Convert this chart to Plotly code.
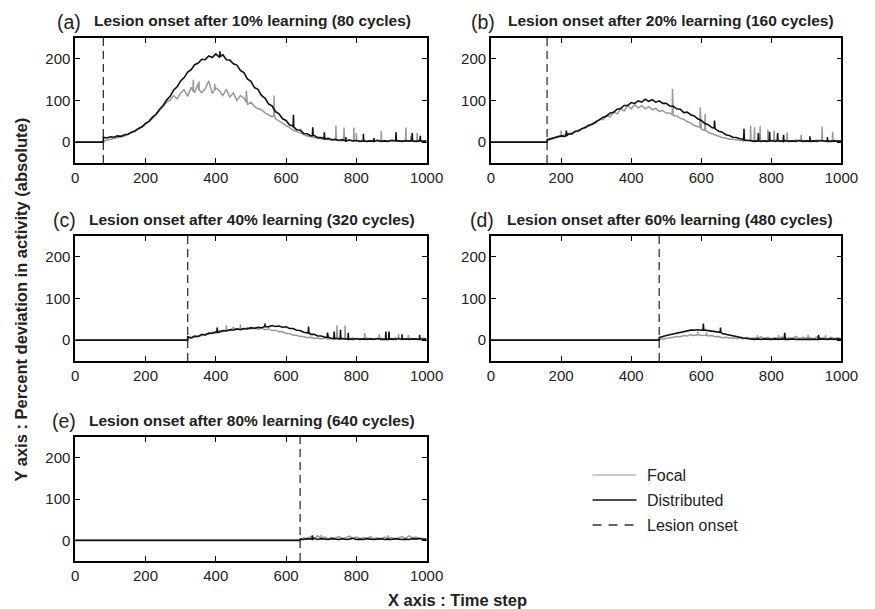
import plotly.graph_objects as go

W, H = 875, 609

# ---------------- data ----------------
ONSETS = [80, 160, 320, 480, 640]
PANEL_LETTERS = ["(a)", "(b)", "(c)", "(d)", "(e)"]
PANEL_TITLES = [
    "Lesion onset after 10% learning (80 cycles)",
    "Lesion onset after 20% learning (160 cycles)",
    "Lesion onset after 40% learning (320 cycles)",
    "Lesion onset after 60% learning (480 cycles)",
    "Lesion onset after 80% learning (640 cycles)",
]
SAMPLE_STEP = 10  # values below are sampled every 10 time steps from onset to 1000

FOCAL_A = [3, 5, 7, 9, 10, 13, 15, 18, 22, 26,
           31, 36, 43, 49, 57, 66, 76, 85, 96, 101,
           112, 104, 118, 126, 110, 132, 120, 141, 119, 128,
           147, 117, 130, 124, 112, 127, 108, 118, 100, 112,
           106, 90, 96, 86, 80, 78, 70, 66, 61, 56,
           50, 44, 40, 35, 29, 26, 21, 18, 15, 13,
           11, 10, 8, 7, 6, 6, 5, 4, 5, 3,
           5, 3, 4, 3, 5, 2, 4, 3, 5, 3,
           4, 2, 5, 3, 4, 3, 5, 2, 4, 3,
           5, 3, 4]
DIST_A = [12, 10, 13, 12, 15, 14, 18, 19, 24, 27,
          33, 37, 45, 50, 60, 67, 79, 88, 101, 110,
          125, 133, 147, 155, 168, 174, 186, 190, 199, 198,
          207, 203, 212, 204, 210, 198, 197, 188, 185, 172,
          167, 152, 146, 131, 127, 112, 106, 92, 87, 73,
          68, 56, 52, 41, 39, 30, 29, 21, 20, 15,
          16, 11, 11, 8, 9, 6, 7, 4, 6, 3,
          5, 3, 4, 2, 4, 2, 3, 2, 4, 2,
          3, 2, 4, 2, 3, 2, 3, 2, 4, 2,
          3, 2, 3]

FOCAL_B = [3, 6, 9, 14, 13, 18, 17, 23, 24, 30,
           31, 38, 38, 46, 46, 55, 54, 64, 61, 72,
           68, 80, 75, 88, 80, 90, 82, 88, 80, 85,
           78, 81, 74, 76, 70, 70, 64, 63, 57, 55,
           49, 46, 40, 37, 31, 28, 23, 20, 16, 14,
           11, 10, 7, 7, 5, 5, 3, 5, 3, 4,
           3, 5, 2, 4, 3, 5, 3, 4, 2, 4,
           3, 5, 3, 4, 2, 4, 3, 5, 3, 4,
           3, 4, 2, 4, 3]
DIST_B = [6, 8, 10, 12, 15, 14, 20, 19, 26, 27,
          33, 35, 41, 43, 50, 54, 60, 63, 70, 72,
          79, 81, 88, 88, 95, 93, 99, 96, 103, 98,
          102, 96, 99, 93, 93, 87, 86, 80, 79, 71,
          72, 66, 63, 56, 52, 45, 42, 35, 32, 26,
          24, 18, 16, 12, 11, 8, 7, 4, 4, 2,
          4, 2, 3, 2, 4, 2, 3, 2, 4, 2,
          3, 2, 4, 2, 3, 2, 3, 2, 4, 2,
          3, 2, 3, 2, 3]

FOCAL_C = [3, 5, 7, 10, 11, 15, 14, 19, 17, 23,
           20, 27, 23, 30, 25, 32, 26, 30, 27, 31,
           26, 29, 25, 27, 23, 24, 20, 20, 16, 16,
           12, 12, 9, 9, 6, 7, 4, 5, 3, 5,
           3, 4, 2, 5, 3, 4, 3, 5, 2, 4,
           3, 5, 3, 4, 2, 5, 3, 4, 3, 5,
           3, 4, 2, 5, 3, 4, 3, 5, 3]
DIST_C = [8, 6, 10, 9, 14, 12, 17, 16, 20, 19,
          23, 22, 25, 24, 27, 25, 28, 27, 30, 28,
          31, 30, 33, 32, 35, 33, 34, 31, 32, 28,
          28, 24, 23, 19, 18, 14, 14, 10, 10, 7,
          7, 4, 5, 3, 4, 2, 3, 2, 4, 2,
          3, 2, 3, 2, 4, 2, 3, 2, 3, 2,
          4, 2, 3, 2, 3, 2, 4, 2, 3]

FOCAL_D = [1, 3, 4, 6, 7, 9, 8, 11, 10, 13,
           11, 14, 11, 13, 10, 11, 8, 9, 6, 7,
           5, 6, 4, 6, 3, 7, 4, 6, 3, 8,
           4, 7, 3, 6, 4, 8, 3, 6, 4, 9,
           3, 7, 4, 6, 3, 8, 4, 6, 3, 7,
           4, 6, 3]
DIST_D = [6, 9, 11, 13, 15, 17, 19, 21, 22, 24,
          24, 25, 24, 24, 23, 22, 20, 19, 16, 14,
          12, 10, 8, 7, 5, 4, 3, 2, 3, 2,
          3, 2, 2, 3, 2, 3, 2, 2, 3, 2,
          2, 3, 2, 2, 3, 2, 3, 2, 2, 3,
          2, 3, 2]

FOCAL_E = [2, 6, 4, 9, 5, 11, 6, 8, 4, 7,
           5, 9, 4, 6, 10, 5, 8, 4, 7, 5,
           9, 4, 6, 3, 8, 5, 7, 3, 6, 9,
           4, 11, 6, 8, 3, 5, 2]
DIST_E = [3, 2, 4, 3, 5, 2, 4, 3, 2, 4,
          3, 2, 4, 2, 3, 5, 2, 3, 2, 4,
          3, 2, 3, 4, 2, 3, 2, 4, 3, 2,
          3, 2, 4, 3, 5, 2, 3]

# isolated spikes: (time step, level beside the spike, spike top)
SPIKES_FOCAL_A = [(336, 122, 150), (352, 125, 146), (397, 125, 140), (487, 96, 124),
                  (566, 64, 112), (742, 5, 40), (765, 4, 35), (793, 4, 35),
                  (800, 4, 22), (871, 3, 27), (941, 3, 35), (955, 3, 15), (973, 3, 22)]
SPIKES_DIST_A = [(412, 205, 218), (621, 36, 66), (676, 16, 36), (709, 8, 24), (770, 3, 12),
                 (820, 3, 20), (850, 2, 10), (913, 3, 24), (959, 3, 22), (982, 3, 15)]
SPIKES_FOCAL_B = [(200, 14, 28), (518, 66, 128), (597, 36, 84), (611, 29, 68), (741, 4, 40),
                  (752, 3, 36), (768, 4, 38), (790, 3, 30), (808, 3, 28), (845, 3, 24),
                  (885, 3, 18), (945, 3, 38), (975, 3, 25)]
SPIKES_DIST_B = [(215, 15, 28), (638, 34, 52), (722, 5, 32), (763, 3, 22), (795, 3, 25),
                 (818, 3, 22), (835, 2, 18), (910, 2, 14), (960, 2, 12)]
SPIKES_FOCAL_C = [(430, 25, 36), (470, 28, 38), (745, 4, 36), (768, 3, 35), (824, 3, 17),
                  (865, 3, 14), (920, 3, 15), (948, 3, 12)]
SPIKES_DIST_C = [(404, 19, 30), (540, 33, 40), (664, 17, 33), (718, 7, 18), (737, 4, 21),
                 (755, 3, 25), (777, 2, 18), (884, 2, 21), (893, 2, 21), (930, 2, 14),
                 (980, 2, 13)]
SPIKES_FOCAL_D = [(590, 13, 20), (615, 12, 18), (760, 4, 12), (820, 4, 12), (905, 4, 13),
                  (955, 4, 12)]
SPIKES_DIST_D = [(606, 24, 40), (655, 19, 30), (838, 2, 18), (935, 2, 13)]
SPIKES_FOCAL_E = [(700, 5, 13), (890, 5, 12)]
SPIKES_DIST_E = [(675, 3, 12)]

FOCAL = [FOCAL_A, FOCAL_B, FOCAL_C, FOCAL_D, FOCAL_E]
DIST = [DIST_A, DIST_B, DIST_C, DIST_D, DIST_E]
SPK_FOCAL = [SPIKES_FOCAL_A, SPIKES_FOCAL_B, SPIKES_FOCAL_C, SPIKES_FOCAL_D, SPIKES_FOCAL_E]
SPK_DIST = [SPIKES_DIST_A, SPIKES_DIST_B, SPIKES_DIST_C, SPIKES_DIST_D, SPIKES_DIST_E]

X_TICKS = [0, 200, 400, 600, 800, 1000]
Y_TICKS = [0, 100, 200]
X_RANGE = [0, 1000]
Y_RANGE = [-50, 250]
LEGEND_LABELS = ["Focal", "Distributed", "Lesion onset"]

# ---------------- styling / layout ----------------
GRAY = "#999999"
BLACK = "#111111"
DASH_COLOR = "#333333"
FONT = "Liberation Sans, Arial, Helvetica, sans-serif"

# axes boxes in pixels: (left, right, top, bottom)
COLS = [(73, 433), (499, 858)]
ROWS = [(38, 163), (236, 361), (437, 561)]
BOXES = [(COLS[0], ROWS[0]), (COLS[1], ROWS[0]), (COLS[0], ROWS[1]), (COLS[1], ROWS[1]),
         (COLS[0], ROWS[2])]
TITLE_LEFT = [90, 514, 85, 513, 85]


def px(x):
    return x / W


def py(y):
    return 1 - y / H


def build(onset, vals, spikes):
    pts = [(0, 0), (onset, 0)]
    pts += [(onset + SAMPLE_STEP * i, v) for i, v in enumerate(vals)]
    for t, base, top in spikes:
        pts += [(t - 1, base), (t, top), (t + 1, base)]
    pts.sort(key=lambda p: p[0])
    return [p[0] for p in pts], [p[1] for p in pts]


fig = go.Figure()
annotations = []
for k in range(5):
    (l, r), (t, b) = BOXES[k]
    suf = "" if k == 0 else str(k + 1)
    xa, ya = "x" + suf, "y" + suf
    fx, fy = build(ONSETS[k], FOCAL[k], SPK_FOCAL[k])
    dx, dy = build(ONSETS[k], DIST[k], SPK_DIST[k])
    fig.add_trace(go.Scatter(x=fx, y=fy, mode="lines", line=dict(color=GRAY, width=1.5),
                             xaxis=xa, yaxis=ya, showlegend=False, name=LEGEND_LABELS[0]))
    fig.add_trace(go.Scatter(x=dx, y=dy, mode="lines", line=dict(color=BLACK, width=1.6),
                             xaxis=xa, yaxis=ya, showlegend=False, name=LEGEND_LABELS[1]))
    fig.add_trace(go.Scatter(x=[ONSETS[k], ONSETS[k]], y=Y_RANGE, mode="lines",
                             line=dict(color=DASH_COLOR, width=1.3, dash="8px,5px"),
                             xaxis=xa, yaxis=ya, showlegend=False, name=LEGEND_LABELS[2]))
    axcommon = dict(showline=True, linecolor="black", linewidth=1.8, mirror="allticks",
                    ticks="inside", ticklen=5, tickwidth=1, tickcolor="black",
                    showgrid=False, zeroline=False,
                    tickfont=dict(family=FONT, size=15, color="#222"))
    fig.layout["xaxis" + suf] = dict(domain=[px(l), px(r)], range=X_RANGE, tickvals=X_TICKS,
                                     anchor=ya, **axcommon)
    fig.layout["yaxis" + suf] = dict(domain=[py(b), py(t)], range=Y_RANGE, tickvals=Y_TICKS,
                                     anchor=xa, **axcommon)
    ty = t - 17
    annotations.append(dict(x=px(TITLE_LEFT[k]), y=py(ty), xref="paper", yref="paper",
                            xanchor="left", yanchor="middle", showarrow=False,
                            text="<b>" + PANEL_TITLES[k] + "</b>",
                            font=dict(family=FONT, size=15.5, color="#222")))
    annotations.append(dict(x=px(TITLE_LEFT[k] - 9), y=py(ty + 1), xref="paper", yref="paper",
                            xanchor="right", yanchor="middle", showarrow=False,
                            text=PANEL_LETTERS[k],
                            font=dict(family=FONT, size=19.5, color="#222")))

# axis titles
annotations.append(dict(x=px(465), y=py(600), xref="paper", yref="paper", showarrow=False,
                        xanchor="center", yanchor="middle", text="<b>X axis : Time step</b>",
                        font=dict(family=FONT, size=16.5, color="#222")))
annotations.append(dict(x=px(17), y=py(300), xref="paper", yref="paper", showarrow=False,
                        xanchor="center", yanchor="middle", textangle=-90,
                        text="<b>Y axis : Percent deviation in activity (absolute)</b>",
                        font=dict(family=FONT, size=16.5, color="#222")))

# legend (drawn in the empty sixth cell)
shapes = []
leg_styles = [dict(color=GRAY, width=1.2), dict(color=BLACK, width=1.5),
              dict(color=DASH_COLOR, width=1.3, dash="9px,7px")]
for i, lab in enumerate(LEGEND_LABELS):
    yy = 475 + 25 * i
    shapes.append(dict(type="line", xref="paper", yref="paper", x0=px(603), x1=px(648),
                       y0=py(yy), y1=py(yy), line=leg_styles[i]))
    annotations.append(dict(x=px(657), y=py(yy), xref="paper", yref="paper", showarrow=False,
                            xanchor="left", yanchor="middle", text=lab,
                            font=dict(family=FONT, size=16, color="#222")))

fig.update_layout(width=W, height=H, autosize=False,
                  margin=dict(l=0, r=0, t=0, b=0),
                  paper_bgcolor="white", plot_bgcolor="white",
                  showlegend=False, annotations=annotations, shapes=shapes)

fig.write_html("out.html")
